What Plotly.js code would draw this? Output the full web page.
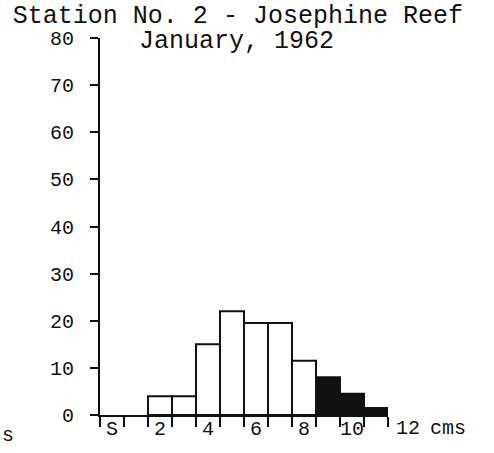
<!DOCTYPE html>
<html>
<head>
<meta charset="utf-8">
<script src="https://cdn.plot.ly/plotly-3.0.1.min.js"></script>
<style>html,body{margin:0;padding:0;background:#fff;}#chart{width:494px;height:453px;}</style>
</head>
<body>
<div id="chart"></div>
<script>
// Size classes (cm) and counts
const openBins = [2, 3, 4, 5, 6, 7, 8];
const openCounts = [4, 4, 15, 22, 19.5, 19.5, 11.5];
const shadedBins = [9, 10, 11];
const shadedCounts = [8, 4.5, 1.5];
const xTickVals = [0, 2, 4, 6, 8, 10];
const xTickText = ["S", "2", "4", "6", "8", "10"];
const yTickVals = [0, 10, 20, 30, 40, 50, 60, 70, 80];
const titleLine1 = "Station No. 2 - Josephine Reef";
const titleLine2 = "January, 1962";

const FONT = "Courier New, Liberation Mono, DejaVu Sans Mono, monospace";

const traces = [
  {type: "bar", x: openBins, y: openCounts, width: 1,
   marker: {color: "#ffffff", line: {color: "#111", width: 2}}, hoverinfo: "x+y"},
  {type: "bar", x: shadedBins, y: shadedCounts, width: 1,
   marker: {color: "#111", line: {color: "#111", width: 2}}, hoverinfo: "x+y"}
];

const layout = {
  width: 494, height: 453,
  margin: {l: 100, r: 106, t: 38, b: 38},
  paper_bgcolor: "#fff", plot_bgcolor: "#fff",
  showlegend: false, barmode: "overlay",
  font: {family: FONT, color: "#111", size: 20},
  title: {text: titleLine1, x: 0.026, xanchor: "left", xref: "container",
          y: 0.969, yanchor: "middle", yref: "container",
          font: {family: FONT, size: 25, color: "#111"}},
  xaxis: {range: [-0.5, 11.5], showgrid: false, zeroline: false,
          showline: true, linecolor: "#111", linewidth: 2,
          tickmode: "array", tickvals: xTickVals, ticktext: xTickText,
          ticks: "", ticklabelstandoff: -6,
          minor: {tick0: 0.5, dtick: 1, ticks: "outside", ticklen: 10, tickwidth: 2, tickcolor: "#111"},
          tickfont: {family: FONT, size: 20, color: "#111"}},
  yaxis: {range: [0, 80], showgrid: false, zeroline: false,
          showline: true, linecolor: "#111", linewidth: 2,
          tickmode: "array", tickvals: yTickVals,
          ticks: "outside", ticklen: 8, tickwidth: 2, tickcolor: "#111",
          ticklabelstandoff: 12,
          tickfont: {family: FONT, size: 20, color: "#111"}},
  annotations: [
    {text: titleLine2, xref: "paper", yref: "paper", x: 0.128, y: 1.0,
     xanchor: "left", yanchor: "middle", yshift: -3, showarrow: false,
     font: {family: FONT, size: 25, color: "#111"}},
    {text: "12", xref: "paper", yref: "paper", x: 1.07, y: 0,
     xanchor: "center", yanchor: "middle", yshift: -13, showarrow: false,
     font: {family: FONT, size: 20, color: "#111"}},
    {text: "cms", xref: "paper", yref: "paper", x: 1.21, y: 0,
     xanchor: "center", yanchor: "middle", yshift: -13, showarrow: false,
     font: {family: FONT, size: 20, color: "#111"}},
    {text: "s", xref: "paper", yref: "paper", x: -0.32, y: 0,
     xanchor: "center", yanchor: "middle", yshift: -20, showarrow: false,
     font: {family: FONT, size: 20, color: "#111"}}
  ]
};

Plotly.newPlot("chart", traces, layout, {displayModeBar: false, staticPlot: true});
</script>
</body>
</html>
